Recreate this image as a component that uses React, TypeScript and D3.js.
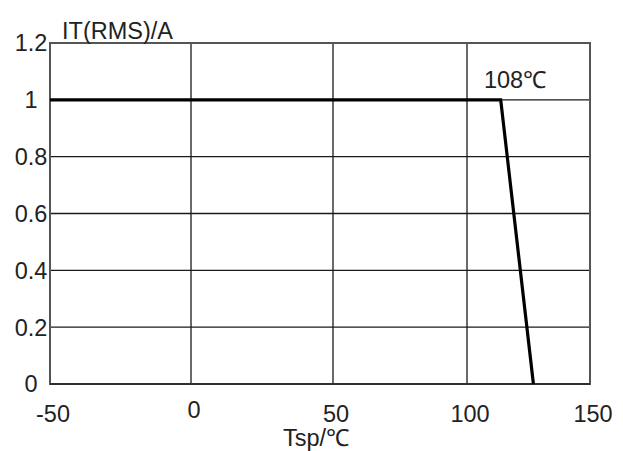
import React from "react";
import * as d3 from "d3";

const xTicks = [-50, 0, 50, 100, 150];
const yTicks = [0, 0.2, 0.4, 0.6, 0.8, 1, 1.2];
const yTickLabels = ["0", "0.2", "0.4", "0.6", "0.8", "1", "1.2"];
const curveT = [-50, 113.7, 127];
const curveI = [1, 1, 0];
const cornerLabel = "108℃";
const yTitle = "IT(RMS)/A";
const xTitle = "Tsp/℃";

export default function App() {
  const W = 623, H = 451;
  // the original chart's x axis is not evenly spaced; follow its gridline positions
  const x = d3.scaleLinear().domain(xTicks).range([50, 191, 333, 467, 590]);
  const y = d3.scaleLinear().domain([0, 1.2]).range([384, 43]);
  const pts: [number, number][] = curveT.map((t, i) => [x(t), y(curveI[i])]);
  const line = d3.line()(pts) as string;
  const font = "'Liberation Sans', Arial, sans-serif";
  const fs = 23.5;
  return (
    <svg width={W} height={H} style={{ position: "absolute", left: 0, top: 0, background: "#fff" }}>
      <rect x={0} y={0} width={W} height={H} fill="#fff" />
      {/* horizontal grid */}
      {yTicks.slice(1, -1).map((v) => (
        <line key={"h" + v} x1={x(-50)} x2={x(150)} y1={y(v)} y2={y(v)} stroke="#1a1a1a" strokeWidth={1.3} />
      ))}
      {/* vertical grid */}
      {xTicks.slice(1, -1).map((v) => (
        <line key={"v" + v} x1={x(v)} x2={x(v)} y1={y(0)} y2={y(1.2)} stroke="#1a1a1a" strokeWidth={1.3} />
      ))}
      {/* frame */}
      <rect x={x(-50)} y={y(1.2)} width={x(150) - x(-50)} height={y(0) - y(1.2)} fill="none" stroke="#555" strokeWidth={2} />
      <line x1={x(-50)} x2={x(150)} y1={y(0)} y2={y(0)} stroke="#222" strokeWidth={1.5} />
      {/* data */}
      <path d={line} fill="none" stroke="#000" strokeWidth={3.2} strokeLinejoin="miter" />
      {/* y tick labels */}
      {yTicks.map((v, i) => (
        <text key={"yl" + v} x={31} y={y(v)} dy="0.36em" textAnchor="middle" fontFamily={font} fontSize={fs} fill="#222">
          {yTickLabels[i]}
        </text>
      ))}
      {/* x tick labels */}
      {xTicks.map((v) => (
        <text key={"xl" + v} x={x(v) + 3} y={v === 0 ? 418 : 422} textAnchor="middle" fontFamily={font} fontSize={fs} fill="#222">
          {v}
        </text>
      ))}
      <text x={62} y={39} fontFamily={font} fontSize={fs} fill="#222">{yTitle}</text>
      <text x={316} y={446} textAnchor="middle" fontFamily={font} fontSize={fs} fill="#222">{xTitle}</text>
      <text x={515} y={88} textAnchor="middle" fontFamily={font} fontSize={fs} fill="#222">{cornerLabel}</text>
    </svg>
  );
}
